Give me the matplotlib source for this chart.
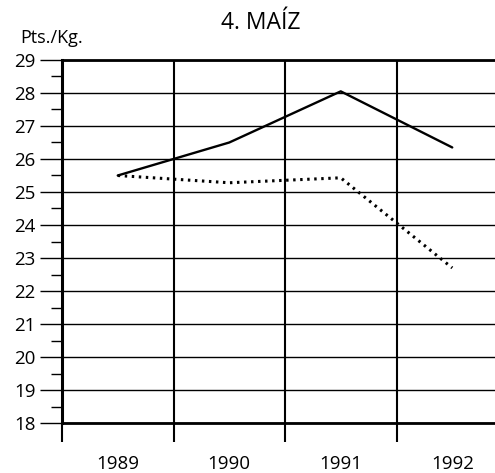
import matplotlib
matplotlib.use("Agg")
import matplotlib.pyplot as plt

years = ["1989", "1990", "1991", "1992"]
serie_continua = [25.5, 26.5, 28.05, 26.35]
serie_puntos = [25.5, 25.28, 25.43, 22.7]

plt.rcParams['font.family'] = ['Open Sans', 'DejaVu Sans']

fig = plt.figure(figsize=(4.95, 4.73), dpi=100)
ax = fig.add_axes([62 / 495, 50 / 473, 446 / 495, 363 / 473])

xs = [i + 0.5 for i in range(len(years))]
ax.plot(xs, serie_continua, color='black', linewidth=1.7, solid_capstyle='round')
ax.plot(xs, serie_puntos, color='black', linewidth=2.2, linestyle=(0, (0.8, 1.5)))

ax.set_xlim(0, len(years))
ax.set_ylim(18, 29)

ax.set_xticks(range(len(years)))
ax.set_xticklabels([])
ax.set_xticks(xs, minor=True)
ax.set_xticklabels(years, minor=True)
ax.tick_params(axis='x', which='major', direction='out', length=14, width=1.5)
ax.tick_params(axis='x', which='minor', length=0, labelsize=13.5, pad=23)

ax.set_yticks(range(18, 30))
ax.set_yticks([y + 0.5 for y in range(18, 29)], minor=True)
ax.tick_params(axis='y', which='major', direction='out', length=16, width=1.0, labelsize=13.5, pad=3)
ax.tick_params(axis='y', which='minor', direction='out', length=8, width=1.0)

ax.grid(True, which='major', axis='y', color='black', linewidth=1.0)
ax.grid(True, which='major', axis='x', color='black', linewidth=1.5)

ax.spines['right'].set_visible(False)
ax.spines['left'].set_linewidth(2.2)
ax.spines['top'].set_linewidth(2.0)
ax.spines['bottom'].set_linewidth(2.0)

fig.text(261 / 495, 1 - 29 / 473, "4. MAÍZ", ha='center', va='baseline', fontsize=16.5)
fig.text(20 / 495, 1 - 43 / 473, "Pts./Kg.", ha='left', va='baseline', fontsize=13)

fig.savefig("out.png", dpi=100)
